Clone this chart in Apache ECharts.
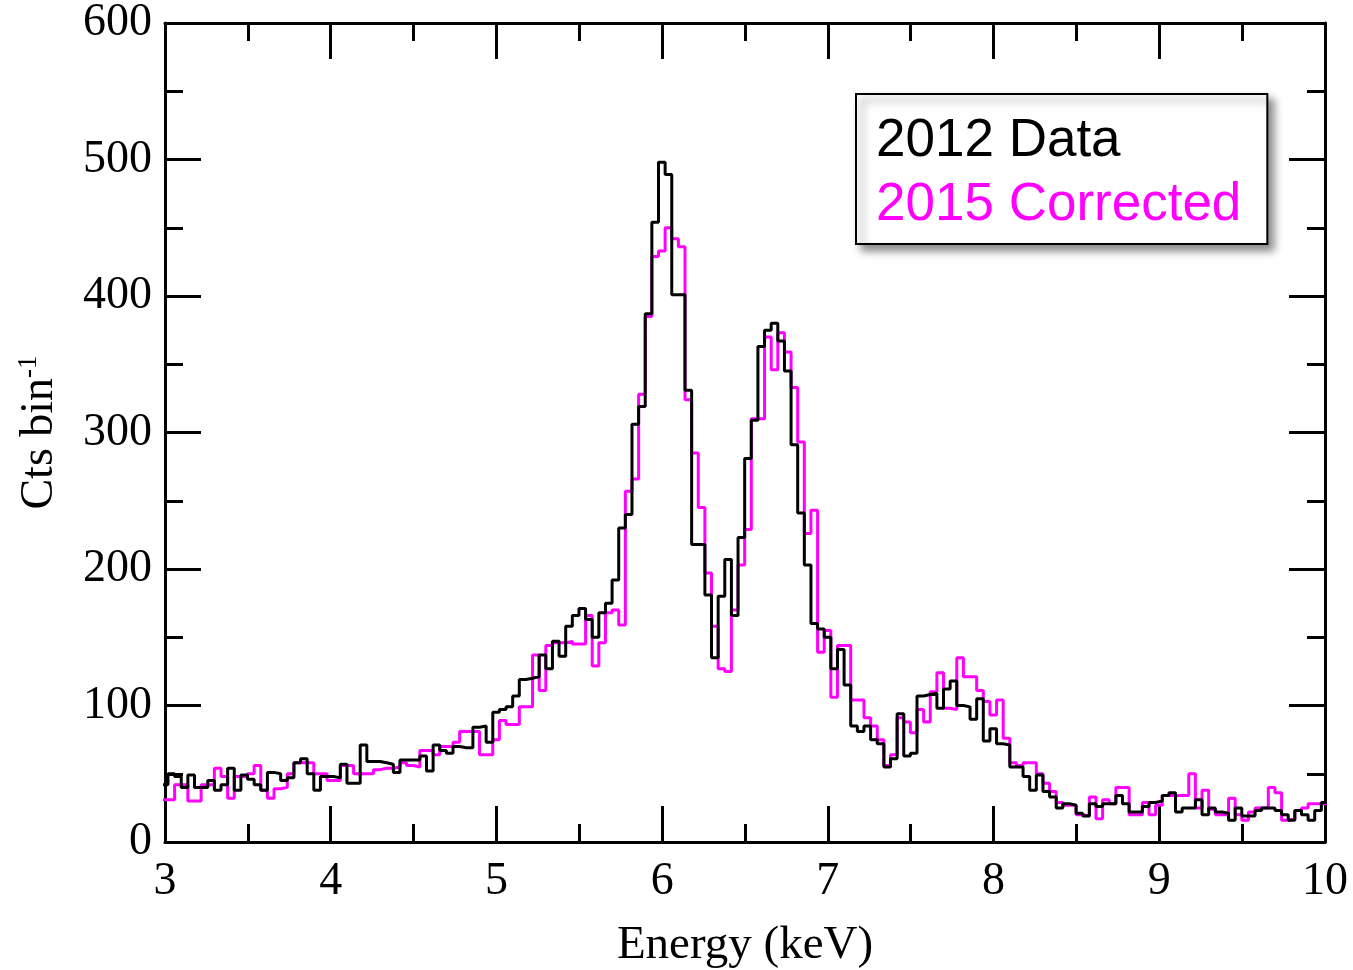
<!DOCTYPE html>
<html>
<head>
<meta charset="utf-8">
<title>Spectrum</title>
<script src="https://cdn.jsdelivr.net/npm/echarts@6/dist/echarts.min.js"></script>
<style>
    html, body { margin: 0; padding: 0; background: #fff; }
    #main { width: 1353px; height: 970px; }
</style>
</head>
<body>
<div id="main"></div>
<script>

// bins: 0.04 keV wide, first lower edge just below 3 keV
var BIN_START = 2.978;
var BIN_WIDTH = 0.04;

var xTicks = [3, 4, 5, 6, 7, 8, 9, 10];
var yTicks = [0, 100, 200, 300, 400, 500, 600];

// counts per bin, 2012 data (black)
var counts2012 = [
    42, 50, 48, 40, 49, 40, 40, 45, 38, 42,
    54, 38, 49, 46, 42, 38, 51, 50, 45, 47,
    58, 61, 50, 38, 48, 48, 47, 57, 43, 43,
    71, 59, 59, 58, 57, 51, 60, 60, 60, 63,
    52, 71, 67, 65, 70, 69, 69, 84, 85, 73,
    95, 97, 99, 107, 119, 120, 121, 137, 127, 147,
    136, 158, 166, 171, 163, 150, 168, 175, 192, 230,
    240, 306, 319, 387, 454, 498, 489, 401, 401, 331,
    218, 218, 181, 135, 180, 207, 166, 223, 281, 309,
    363, 375, 380, 367, 345, 291, 241, 203, 160, 156,
    150, 127, 141, 115, 85, 81, 85, 75, 72, 55,
    61, 94, 63, 65, 107, 108, 109, 98, 112, 118,
    100, 99, 90, 105, 74, 83, 72, 71, 55, 55,
    48, 38, 49, 37, 33, 25, 28, 27, 21, 19,
    28, 26, 28, 28, 34, 28, 22, 22, 26, 29,
    30, 34, 36, 22, 25, 25, 31, 20, 25, 22,
    21, 16, 25, 19, 19, 23, 25, 25, 23, 20,
    16, 23, 20, 16, 23, 29
];

// counts per bin, 2015 corrected (magenta)
var counts2015 = [
    31, 31, 42, 42, 30, 30, 42, 42, 54, 48,
    32, 48, 48, 50, 56, 38, 32, 39, 40, 50,
    58, 58, 58, 50, 50, 45, 45, 56, 56, 50,
    50, 50, 53, 54, 54, 55, 58, 56, 55, 67,
    67, 64, 70, 70, 73, 81, 81, 81, 64, 64,
    75, 89, 86, 86, 99, 99, 137, 111, 144, 146,
    146, 147, 145, 145, 166, 129, 146, 168, 170, 159,
    257, 266, 328, 385, 429, 433, 450, 442, 436, 324,
    285, 245, 197, 158, 127, 125, 170, 203, 229, 310,
    310, 370, 346, 373, 359, 333, 293, 226, 243, 139,
    155, 106, 144, 144, 104, 104, 91, 85, 75, 56,
    64, 91, 88, 80, 97, 88, 110, 124, 98, 97,
    135, 121, 121, 111, 103, 93, 104, 76, 58, 56,
    58, 58, 50, 43, 37, 29, 27, 27, 20, 19,
    33, 17, 31, 28, 40, 40, 20, 20, 29, 20,
    27, 34, 34, 34, 34, 50, 25, 38, 24, 20,
    20, 32, 20, 16, 22, 25, 25, 40, 36, 16,
    17, 23, 25, 28, 28, 28
];

var SERIF = '"Liberation Serif", "Times New Roman", Times, serif';
var SANS = '"Liberation Sans", Arial, Helvetica, sans-serif';

// turn bin counts into step points at the lower bin edges
function toSteps(counts) {
    var pts = [];
    for (var i = 0; i < counts.length; i++) {
        pts.push([BIN_START + BIN_WIDTH * i, counts[i]]);
    }
    pts.push([BIN_START + BIN_WIDTH * counts.length, counts[counts.length - 1]]);
    return pts;
}

var MAJOR_LEN = 36;
var MINOR_LEN = 18;

// one axis = one set of inward ticks; main axes also carry line, labels, name
function xAxisDef(pos, step, tickLen, main) {
    return {
        type: 'value',
        position: pos,
        min: xTicks[0],
        max: xTicks[xTicks.length - 1],
        interval: step,
        name: main && pos === 'bottom' ? 'Energy (keV)' : '',
        nameLocation: 'middle',
        nameGap: 80,
        nameTextStyle: { fontFamily: SERIF, fontSize: 47, color: '#000' },
        axisLine: { show: main, onZero: false, lineStyle: { color: '#000', width: 3 } },
        axisTick: { show: true, inside: true, length: tickLen, lineStyle: { color: '#000', width: 3 } },
        splitLine: { show: false },
        axisLabel: {
            show: main && pos === 'bottom',
            margin: 17,
            fontFamily: SERIF,
            fontSize: 46,
            color: '#000',
            showMinLabel: true,
            showMaxLabel: true
        }
    };
}

function yAxisDef(pos, step, tickLen, main) {
    return {
        type: 'value',
        position: pos,
        min: yTicks[0],
        max: yTicks[yTicks.length - 1],
        interval: step,
        name: main && pos === 'left' ? '{n|Cts bin}{s|-1}' : '',
        nameLocation: 'middle',
        nameGap: 100,
        nameTextStyle: {
            color: '#000',
            rich: {
                n: { fontFamily: SERIF, fontSize: 46, color: '#000', lineHeight: 50 },
                s: { fontFamily: SERIF, fontSize: 27, color: '#000', verticalAlign: 'top', lineHeight: 50 }
            }
        },
        axisLine: { show: main, onZero: false, lineStyle: { color: '#000', width: 3 } },
        axisTick: { show: true, inside: true, length: tickLen, lineStyle: { color: '#000', width: 3 } },
        splitLine: { show: false },
        axisLabel: {
            show: main && pos === 'left',
            margin: 13,
            fontFamily: SERIF,
            fontSize: 46,
            color: '#000',
            showMinLabel: true,
            showMaxLabel: true
        }
    };
}

var chart = echarts.init(document.getElementById('main'), null, { renderer: 'canvas' });

chart.setOption({
    animation: false,
    backgroundColor: '#fff',
    grid: { left: 165, right: 28, top: 23, bottom: 128, containLabel: false, outerBoundsMode: 'none' },
    xAxis: [
        xAxisDef('bottom', 1, MAJOR_LEN, true),
        xAxisDef('bottom', 0.5, MINOR_LEN, false),
        xAxisDef('top', 1, MAJOR_LEN, true),
        xAxisDef('top', 0.5, MINOR_LEN, false)
    ],
    yAxis: [
        yAxisDef('left', 100, MAJOR_LEN, true),
        yAxisDef('left', 50, MINOR_LEN, false),
        yAxisDef('right', 100, MAJOR_LEN, true),
        yAxisDef('right', 50, MINOR_LEN, false)
    ],
    legend: {
        orient: 'vertical',
        left: 856,
        top: 94,
        padding: [21, 26, 12, 15],
        itemGap: 11,
        itemWidth: 0,
        itemHeight: 0,
        selectedMode: false,
        backgroundColor: '#fff',
        borderColor: '#000',
        borderWidth: 2,
        shadowColor: 'rgba(0,0,0,0.45)',
        shadowBlur: 8,
        shadowOffsetX: 6,
        shadowOffsetY: 6,
        textStyle: { fontFamily: SANS, fontSize: 53 },
        data: [
            { name: '2012 Data', icon: 'rect', textStyle: { color: '#000' } },
            { name: '2015 Corrected', icon: 'rect', textStyle: { color: '#ff00ff' } }
        ]
    },
    series: [
        {
            name: '2015 Corrected',
            type: 'line',
            step: 'end',
            symbol: 'none',
            xAxisIndex: 0,
            yAxisIndex: 0,
            data: toSteps(counts2015),
            lineStyle: { color: '#ff00ff', width: 3 },
            itemStyle: { color: '#ff00ff' }
        },
        {
            name: '2012 Data',
            type: 'line',
            step: 'end',
            symbol: 'none',
            xAxisIndex: 0,
            yAxisIndex: 0,
            data: toSteps(counts2012),
            lineStyle: { color: '#000', width: 3 },
            itemStyle: { color: '#000' }
        }
    ]
});

</script>
</body>
</html>
